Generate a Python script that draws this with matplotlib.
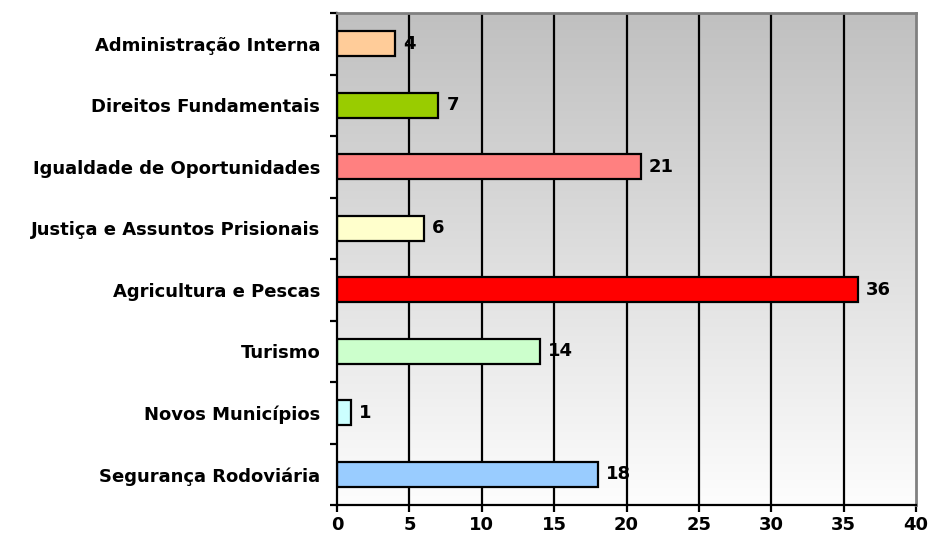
import matplotlib
matplotlib.use("Agg")
import matplotlib.pyplot as plt
import numpy as np
from matplotlib.colors import LinearSegmentedColormap

categories = ["Segurança Rodoviária", "Novos Municípios", "Turismo", "Agricultura e Pescas",
              "Justiça e Assuntos Prisionais", "Igualdade de Oportunidades",
              "Direitos Fundamentais", "Administração Interna"]
values = [18, 1, 14, 36, 6, 21, 7, 4]
colors = ["#99CCFF", "#CCFFFF", "#CCFFCC", "#FF0000", "#FFFFCC", "#FF8080", "#99CC00", "#FFCC99"]
xticks = [0, 5, 10, 15, 20, 25, 30, 35, 40]

plt.rcParams['font.family'] = ['DejaVu Sans']
plt.rcParams['font.weight'] = 'bold'
FS = 13

fig = plt.figure(figsize=(9.3, 5.45), dpi=100)
ax = fig.add_axes([337/930, 40/545, (916-337)/930, (505-13)/545])

n = len(categories)
grad = np.linspace(0, 1, 256).reshape(-1, 1)
cmap = LinearSegmentedColormap.from_list("bg", ["#FDFDFD", "#C0C0C0"])
ax.imshow(grad, aspect='auto', cmap=cmap, origin='lower',
          extent=[0, 40, -0.5, n - 0.5], zorder=0)

for x in xticks[1:-1]:
    ax.axvline(x, color='black', lw=1.6, zorder=1)

y = np.arange(n)
ax.barh(y, values, height=0.4, color=colors, edgecolor='black', linewidth=1.6, zorder=2)
for yi, v in zip(y, values):
    ax.text(v + 0.55, yi, str(v), va='center', ha='left', fontsize=FS,
            fontweight='bold', zorder=3)

ax.set_xlim(0, 40)
ax.set_ylim(-0.5, n - 0.5)
ax.set_xticks(xticks)
ax.set_xticklabels([str(t) for t in xticks], fontsize=FS, fontweight='bold')
ax.set_yticks(y)
ax.set_yticklabels(categories, fontsize=FS, fontweight='bold')
ax.set_yticks(np.arange(-0.5, n, 1), minor=True)
ax.tick_params(axis='y', which='major', length=0, pad=12)
ax.tick_params(axis='y', which='minor', length=5, width=1.6, direction='out')
ax.tick_params(axis='x', which='major', length=5, width=1.6, direction='out', pad=3)

for s in ['left', 'bottom']:
    ax.spines[s].set_color('black')
    ax.spines[s].set_linewidth(1.6)
for s in ['top', 'right']:
    ax.spines[s].set_color('#808080')
    ax.spines[s].set_linewidth(2)

fig.savefig("out.png", dpi=100)
